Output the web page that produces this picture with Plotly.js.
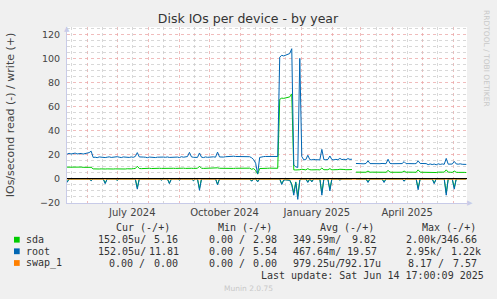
<!DOCTYPE html>
<html><head><meta charset="utf-8">
<script src="https://cdn.plot.ly/plotly-3.0.1.min.js"></script>
<style>html,body{margin:0;padding:0;background:#f0f0f0;}#chart{width:497px;height:299px;}</style>
</head><body><div id="chart"></div>
<script>
// ---------- DATA (2-day samples starting 2024-05-12) ----------
const startDate = '2024-05-12';
const stepDays = 2;

const rootWrite = [
 20.5,21.2,20.6,20.8,21.4,20.7,20.9,21.1,20.6,21.0,
 21.3,21.8,23.0,17.8,18.0,17.6,18.2,17.9,18.1,17.7,
 18.0,18.3,17.8,18.1,17.9,18.4,18.0,17.7,18.2,18.0,
 18.1,17.8,18.2,17.9,18.6,21.8,18.2,17.9,18.1,18.0,
 17.6,18.1,17.9,18.3,17.7,18.0,18.2,17.8,18.1,17.9,
 18.2,17.8,18.0,18.3,17.9,18.1,17.7,18.4,18.0,18.2,
 18.5,22.0,18.3,17.9,18.1,17.8,21.5,18.0,17.7,18.2,
 17.9,18.1,17.8,18.3,18.0,22.2,18.2,17.9,18.1,18.4,
 18.6,18.9,19.1,18.8,18.6,18.5,18.7,18.4,18.6,18.5,
 18.6,18.4,17.5,16.0,13.0,4.0,17.8,18.4,18.5,18.6,
 18.6,18.5,18.7,18.6,18.8,18.6,101.0,102.5,102.0,102.8,
 103.5,104.0,108.0,11.5,10.0,9.5,100.0,18.5,15.8,16.0,
 19.6,16.0,15.8,16.2,15.9,16.1,15.8,24.5,16.0,15.9,
 16.1,19.0,16.0,15.8,16.2,15.9,17.0,16.0,16.3,15.9,
 16.8,16.2,16.3,null,12.8,12.6,12.9,12.7,12.5,12.8,
 15.0,12.7,12.6,12.8,12.5,12.7,12.6,12.8,12.7,12.6,
 16.3,12.8,12.6,12.7,12.5,12.8,12.6,12.7,14.3,12.6,
 12.7,12.5,12.8,12.6,12.7,15.0,12.8,12.6,12.5,12.7,
 11.8,12.4,11.9,12.3,11.7,12.5,12.0,12.4,12.1,17.0,
 12.2,12.5,12.3,14.5,12.4,12.2,12.5,12.1,12.3,12.0
];
const sdaWrite = [
 9.7,9.8,9.6,9.7,9.9,9.6,9.7,9.8,9.6,9.7,
 9.8,9.7,9.6,8.3,8.1,8.4,8.2,8.3,8.0,8.2,
 8.3,8.1,8.4,8.2,8.3,8.2,8.4,8.1,8.3,8.2,
 8.4,8.2,8.3,8.5,8.6,10.5,8.6,8.5,8.7,8.6,
 8.7,8.8,8.6,8.8,8.7,8.9,8.8,8.7,8.8,8.9,
 8.8,8.7,8.9,8.8,8.7,8.9,8.8,8.8,8.9,8.7,
 8.8,9.3,8.8,8.7,8.9,8.8,10.5,8.8,8.7,8.8,
 8.8,8.9,8.7,8.8,8.9,9.2,8.8,8.7,8.8,8.9,
 8.8,8.9,8.8,8.7,8.8,8.9,8.8,8.8,8.9,8.8,
 8.8,8.9,8.0,8.5,7.0,4.0,8.6,8.8,8.9,8.8,
 8.8,8.9,8.8,8.8,8.9,8.8,66.0,67.0,66.8,67.2,
 67.5,68.0,70.5,7.5,7.4,7.3,7.6,8.0,7.6,7.5,
 8.5,7.6,7.5,7.7,7.5,7.6,7.5,9.0,7.6,7.5,
 7.6,8.5,7.5,7.6,7.5,7.7,8.0,7.6,7.8,7.6,
 7.9,7.7,7.8,null,5.6,5.5,5.6,5.5,5.4,5.5,
 6.5,5.5,5.6,5.5,5.4,5.6,5.5,5.5,5.6,5.5,
 7.0,5.6,5.5,5.6,5.4,5.5,5.6,5.5,6.5,5.5,
 5.6,5.5,5.4,5.6,5.5,7.5,5.6,5.5,5.4,5.5,
 5.3,5.6,5.4,5.5,5.3,5.6,5.4,5.5,5.6,7.5,
 5.6,5.5,5.4,6.5,5.5,5.4,5.6,5.5,5.4,5.3
];
const rootRead = [
 -3.0,0,0,0,0,0,0,0,0,0,
 0,0,-1.5,0,0,0,0,0,0,-4.0,
 0,0,0,0,0,-1.2,0,0,0,0,
 0,0,0,0,0,-8.5,0,0,0,0,
 0,0,0,0,0,0,0,-1.0,0,0,
 0,-4.0,0,0,0,0,-1.0,0,0,0,
 0,0,0,-1.5,0,0,-9.5,0,0,0,
 0,0,0,0,0,-5.0,0,0,0,0,
 0,0,0,0,0,0,0,0,0,0,
 0,0,-2.0,0,0,-2.5,0,0,0,0,
 0,0,0,0,0,0,0,-4.7,-1.0,-0.8,
 -1.0,-1.2,-5.0,-13.5,-3.0,-17.0,-1.0,0,0,0,
 -3.0,0,-2.5,0,0,0,0,-13.5,0,0,
 0,-10.0,0,0,0,0,-1.0,0,0,0,
 0,0,0,null,0,0,0,0,0,0,
 -3.0,0,0,0,0,0,0,0,-3.0,0,
 0,0,0,0,0,0,0,0,-2.0,0,
 0,0,0,0,0,-9.0,0,0,0,0,
 0,0,0,-4.0,0,0,0,0,0,-13.5,
 0,0,0,-8.5,0,0,0,0,0,0
];
const sdaRead = [
 -2.5,0,0,0,0,0,0,0,0,0,
 0,0,-1.2,0,0,0,0,0,0,-3.4,
 0,0,0,0,0,-1.0,0,0,0,0,
 0,0,0,0,0,-7.2,0,0,0,0,
 0,0,0,0,0,0,0,-0.8,0,0,
 0,-3.4,0,0,0,0,-0.8,0,0,0,
 0,0,0,-1.2,0,0,-8.0,0,0,0,
 0,0,0,0,0,-4.2,0,0,0,0,
 0,0,0,0,0,0,0,0,0,0,
 0,0,-1.7,0,0,-2.1,0,0,0,0,
 0,0,0,0,0,0,0,-4.0,-0.8,-0.7,
 -0.8,-1.0,-4.2,-11.5,-2.5,-14.5,-0.8,0,0,0,
 -2.5,0,-2.1,0,0,0,0,-11.5,0,0,
 0,-8.5,0,0,0,0,-0.8,0,0,0,
 0,0,0,null,0,0,0,0,0,0,
 -2.5,0,0,0,0,0,0,0,-2.5,0,
 0,0,0,0,0,0,0,0,-1.7,0,
 0,0,0,0,0,-7.6,0,0,0,0,
 0,0,0,-3.4,0,0,0,0,0,-11.5,
 0,0,0,-7.2,0,0,0,0,0,0
];
const swapWrite = new Array(200).fill(0);
const swapRead = new Array(200).fill(0);

const seriesNames = ['sda', 'root', 'swap_1'];
const seriesColors = ['#00CC00', '#0066B3', '#FF8000'];

const monthLabelDates = ['2024-05-16','2024-06-16','2024-07-16','2024-08-16','2024-09-16','2024-10-16','2024-11-16','2024-12-16','2025-01-16','2025-02-15','2025-03-16','2025-04-16','2025-05-16','2025-06-16'];
const monthLabelText  = ['','','July 2024','','','October 2024','','','January 2025','','','April 2025','',''];

const legendHeader = ['Cur (-/+)', 'Min (-/+)', 'Avg (-/+)', 'Max (-/+)'];
const legendCells = [
  ['152.05u/', '5.16',  '0.00 /', '2.98', '349.59m/', '9.82',    '2.00k/', '346.66'],
  ['152.05u/', '11.81', '0.00 /', '5.54', '467.64m/', '19.57',   '2.95k/', '1.22k'],
  ['0.00 /',   '0.00',  '0.00 /', '0.00', '979.25u/', '792.17u', '8.17 /', '7.57']
];
const lastUpdate = 'Last update: Sat Jun 14 17:00:09 2025';

// ---------- BUILD ----------
const t0 = Date.parse(startDate + 'T00:00:00Z');
const dates = rootWrite.map((_, i) => new Date(t0 + i * stepDays * 86400000).toISOString().slice(0, 10));

function line(y, color, name) {
  return {x: dates, y: y, type: 'scatter', mode: 'lines', name: name,
          line: {color: color, width: 1}, connectgaps: false, hoverinfo: 'skip', showlegend: false};
}
const traces = [
  line(sdaRead, seriesColors[0], 'sda read'),
  line(rootRead, seriesColors[1], 'root read'),
  line(swapRead, seriesColors[2], 'swap read'),
  line(sdaWrite, seriesColors[0], 'sda write'),
  line(rootWrite, seriesColors[1], 'root write'),
  line(swapWrite, seriesColors[2], 'swap write')
];

// pixel helpers for decorations (plot area: x 67..467, y 27..203)
const PL = 67, PR = 467, PT = 27, PB = 203;
const px = x => (x - PL) / (PR - PL);
const py = y => (PB - y) / (PB - PT);

const mono = {family: 'DejaVu Sans Mono', size: 10, color: '#333333'};
const ann = [];
function txt(s, x, y, font, extra) {
  ann.push(Object.assign({text: s, xref: 'paper', yref: 'paper', x: px(x), y: py(y),
    xanchor: 'left', yanchor: 'middle', showarrow: false, borderpad: 0, borderwidth: 0, font: font}, extra || {}));
}
// header
const headerX = [116.7, 218.3, 321, 422.7];
legendHeader.forEach((h, i) => txt(h, headerX[i] - 0.6, 227.3, mono));
const rowY = [239.7, 251.3, 263];
const cellX = [
  [98.3, 155, 209.3, 254, 293.3, 352.7, 406.7, 441.5],
  [98.3, 150, 209.3, 254, 293.3, 347.3, 406.7, 452],
  [110, 155, 209.3, 254, 293.3, 340, 408.3, 453.3]
];
seriesNames.forEach((n, r) => {
  txt(n, 26.7 - 0.6, rowY[r], mono);
  legendCells[r].forEach((c, k) => txt(c, cellX[r][k] - 0.6, rowY[r], mono));
});
txt(lastUpdate, 261.7 - 0.6, 275.7, mono);
// watermark texts
txt('Munin 2.0.75', 248, 288, {family: 'DejaVu Sans', size: 7.5, color: '#c8c8c8'}, {xanchor: 'center'});
txt('RRDTOOL / TOBI OETIKER', 487, 58, {family: 'DejaVu Sans', size: 7.5, color: '#c8c8c8'}, {xanchor: 'center', textangle: 90});
// axis arrows
txt('\u25B2', 67, 29, {family: 'DejaVu Sans', size: 7, color: '#c8cbe8'}, {xanchor: 'center'});
txt('\u25B6', 470, 203, {family: 'DejaVu Sans', size: 7, color: '#c8cbe8'}, {xanchor: 'center'});

const shapes = seriesColors.map((c, r) => ({
  type: 'rect', xref: 'paper', yref: 'paper', layer: 'above',
  x0: px(14), x1: px(19.7), y0: py(rowY[r] - 2.9), y1: py(rowY[r] + 2.9),
  fillcolor: c, line: {width: 0}
}));

const red = 'rgba(235,165,165,0.75)';
const gray = 'rgba(200,200,200,0.7)';
const layout = {
  width: 497, height: 299,
  paper_bgcolor: '#f0f0f0', plot_bgcolor: '#ffffff',
  margin: {l: PL, r: 497 - PR, t: PT, b: 299 - PB, pad: 0},
  font: {family: 'DejaVu Sans', color: '#444'},
  title: {text: 'Disk IOs per device - by year', font: {family: 'DejaVu Sans', size: 12.5, color: '#333'},
          xref: 'container', x: 248 / 497, xanchor: 'center', yref: 'container', y: 1 - 19 / 299, yanchor: 'middle'},
  showlegend: false,
  xaxis: {
    type: 'date', range: ['2024-05-11 22:00', '2025-06-14 17:00'], fixedrange: true,
    tickmode: 'array', tickvals: monthLabelDates, ticktext: monthLabelText,
    ticks: '', showgrid: true, gridcolor: gray, griddash: 'dot', gridwidth: 1,
    minor: {dtick: 'M1', tick0: '2024-06-01', showgrid: true, gridcolor: red, griddash: 'dot', gridwidth: 1, ticks: ''},
    showline: true, linecolor: '#c8cbe8', linewidth: 1, zeroline: false,
    tickfont: {family: 'DejaVu Sans', size: 10, color: '#444'}
  },
  yaxis: {
    range: [-20, 126], fixedrange: true, tick0: 0, dtick: 20,
    ticks: '', showgrid: true, gridcolor: red, griddash: 'dot', gridwidth: 1,
    minor: {dtick: 5, tick0: 0, showgrid: true, gridcolor: gray, griddash: 'dot', gridwidth: 1, ticks: ''},
    zeroline: true, zerolinecolor: '#000000', zerolinewidth: 1, zerolinelayer: 'above traces',
    showline: true, linecolor: '#c8cbe8', linewidth: 1,
    ticklabelstandoff: 4,
    tickfont: {family: 'DejaVu Sans', size: 9.5, color: '#444'},
    title: {text: 'IOs/second read (-) / write (+)', font: {family: 'DejaVu Sans', size: 11, color: '#444'}, standoff: 23}
  },
  annotations: ann,
  shapes: shapes
};
Plotly.newPlot('chart', traces, layout, {staticPlot: true, displayModeBar: false});
</script></body></html>
